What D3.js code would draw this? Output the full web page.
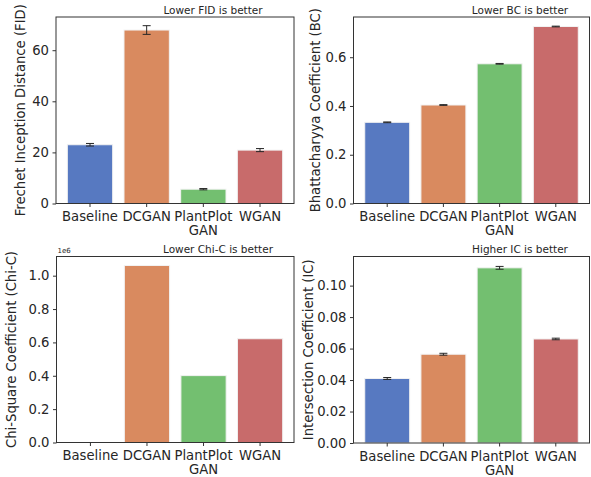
<!DOCTYPE html>
<html><head><meta charset="utf-8">
<script src="https://cdn.jsdelivr.net/npm/d3@7"></script>
<style>
body{margin:0;background:#fff;}
svg{display:block;font-family:"DejaVu Sans",sans-serif;}
svg text{font-family:"DejaVu Sans",sans-serif;}
</style></head>
<body>
<svg id="c" width="591" height="477"></svg>
<script>
const categories = ["Baseline","DCGAN","PlantPlot\nGAN","WGAN"];
const colors = ["#5779c1","#d98a5f","#73bf70","#c86b6b"];

const fidValues = [23.0, 67.9, 5.6, 20.9];
const fidErrors = [0.5, 1.7, 0.25, 0.6];
const fidTicks = [0, 20, 40, 60];

const bcValues = [0.333, 0.404, 0.573, 0.726];
const bcErrors = [0.0015, 0.0015, 0.0015, 0.0015];
const bcTicks = [0.0, 0.2, 0.4, 0.6];

const chiValues = [0, 1061000, 401000, 622000];
const chiErrors = [0, 0, 0, 0];
const chiTicks = [0, 200000, 400000, 600000, 800000, 1000000];

const icValues = [0.0410, 0.0564, 0.1113, 0.0661];
const icErrors = [0.0006, 0.0006, 0.0009, 0.0005];
const icTicks = [0.00, 0.02, 0.04, 0.06, 0.08, 0.10];

const panels = [
  {vals: fidValues, errs: fidErrors, ticks: fidTicks, ymax: 73, fmt: d3.format("d"),
   x0: 56, x1: 294, y0: 17, y1: 203.5, ylabel: "Frechet Inception Distance (FID)", ylabX: 25,
   title: "Lower FID is better", titleX: 213, titleY: 14},
  {vals: bcValues, errs: bcErrors, ticks: bcTicks, ymax: 0.765, fmt: d3.format(".1f"),
   x0: 353.5, x1: 589.5, y0: 17, y1: 203.5, ylabel: "Bhattacharyya Coefficient (BC)", ylabX: 320,
   title: "Lower BC is better", titleX: 520, titleY: 14},
  {vals: chiValues, errs: chiErrors, ticks: chiTicks, ymax: 1115000, fmt: d => (d/1e6).toFixed(1),
   x0: 56.5, x1: 294, y0: 256.5, y1: 442.5, ylabel: "Chi-Square Coefficient (Chi-C)", ylabX: 15.5,
   title: "Lower Chi-C is better", titleX: 218, titleY: 253, offset: "1e6"},
  {vals: icValues, errs: icErrors, ticks: icTicks, ymax: 0.1185, fmt: d3.format(".2f"),
   x0: 353.5, x1: 589.5, y0: 256.5, y1: 443, ylabel: "Intersection Coefficient (IC)", ylabX: 312.5,
   title: "Higher IC is better", titleX: 520, titleY: 253}
];

const svg = d3.select("#c");
const ink = "#262626";
const FS = 13.2;

panels.forEach(p => {
  const x = d3.scaleBand().domain(categories).range([p.x0, p.x1]).paddingInner(0.2).paddingOuter(0.2);
  const y = d3.scaleLinear().domain([0, p.ymax]).range([p.y1, p.y0]);
  const g = svg.append("g");

  g.selectAll("rect.bar").data(p.vals).enter().append("rect")
    .attr("x", (d,i) => x(categories[i]))
    .attr("width", x.bandwidth())
    .attr("y", d => y(d))
    .attr("height", d => y(0) - y(d))
    .attr("fill", (d,i) => colors[i])
    .attr("stroke", "#f2f2f2").attr("stroke-width", 1);

  p.vals.forEach((v,i) => {
    const e = p.errs[i];
    if (!e) return;
    const cx = x(categories[i]) + x.bandwidth()/2;
    const eg = g.append("g").attr("stroke", ink).attr("stroke-width", 1);
    eg.append("line").attr("x1", cx).attr("x2", cx).attr("y1", y(v-e)).attr("y2", y(v+e));
    eg.append("line").attr("x1", cx-4).attr("x2", cx+4).attr("y1", y(v-e)).attr("y2", y(v-e));
    eg.append("line").attr("x1", cx-4).attr("x2", cx+4).attr("y1", y(v+e)).attr("y2", y(v+e));
  });

  g.append("rect").attr("x", p.x0).attr("y", p.y0).attr("width", p.x1-p.x0).attr("height", p.y1-p.y0)
    .attr("fill", "none").attr("stroke", "#333").attr("stroke-width", 1);

  const ya = g.append("g").attr("transform", `translate(${p.x0},0)`)
    .call(d3.axisLeft(y).tickValues(p.ticks).tickFormat(p.fmt).tickSize(3.5).tickPadding(3.5));
  ya.attr("font-family", null).attr("font-size", null);
  ya.select(".domain").remove();
  ya.selectAll("line").attr("stroke", "#333");
  ya.selectAll("text").attr("font-size", FS).attr("fill", ink);

  const xa = g.append("g").attr("transform", `translate(0,${p.y1})`)
    .call(d3.axisBottom(x).tickSize(3.5).tickFormat(""));
  xa.attr("font-family", null).attr("font-size", null);
  xa.select(".domain").remove();
  xa.selectAll("line").attr("stroke", "#333");
  xa.selectAll(".tick").each(function(d){
    const t = d3.select(this).append("text").attr("fill", ink).attr("font-size", FS)
      .attr("text-anchor", "middle").attr("y", 17.5);
    d.split("\n").forEach((ln,k) => t.append("tspan").attr("x", 0).attr("dy", k ? 14 : 0).text(ln));
  });

  g.append("text").attr("transform", `translate(${p.ylabX},${(p.y0+p.y1)/2}) rotate(-90)`)
    .attr("text-anchor", "middle").attr("font-size", FS).attr("fill", ink).text(p.ylabel);

  g.append("text").attr("x", p.titleX).attr("y", p.titleY).attr("text-anchor", "middle")
    .attr("font-size", 10.5).attr("fill", ink).text(p.title);

  if (p.offset) {
    g.append("text").attr("x", p.x0 + 1).attr("y", p.y0 - 3.5).attr("font-size", 7)
      .attr("fill", ink).text(p.offset);
  }
});
</script>
</body></html>
